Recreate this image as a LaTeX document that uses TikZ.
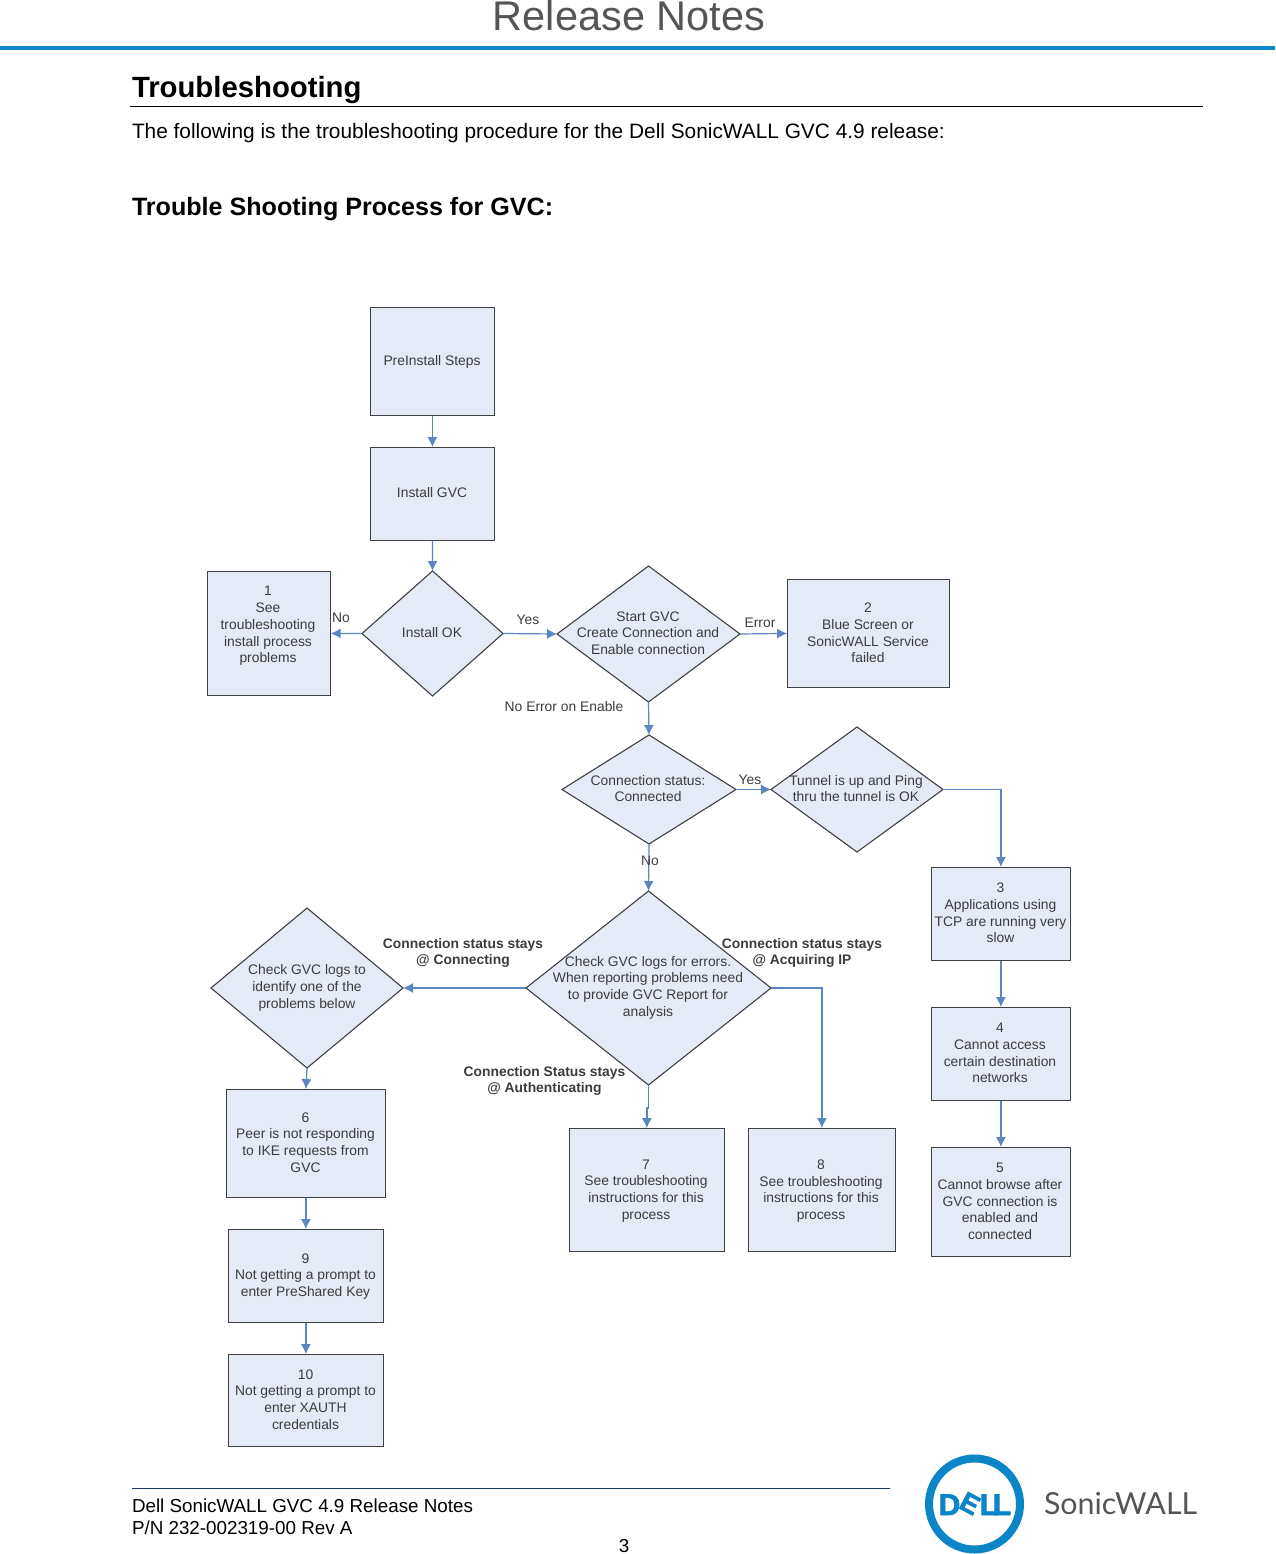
\documentclass[tikz,border=0pt]{standalone}
\usepackage{fontspec}
\setmainfont{Liberation Sans}
\newfontfamily\logofont{Lato}
\newfontfamily\dellfont[FakeBold=2.5]{Liberation Sans Bold}
\usetikzlibrary{shapes.geometric,arrows.meta}
\definecolor{boxfill}{HTML}{E4EAF6}
\definecolor{boxline}{HTML}{404040}
\definecolor{arrowc}{HTML}{5B86C0}
\definecolor{flowtext}{HTML}{3C3C3C}
\definecolor{dellblue}{HTML}{0A85C7}
\definecolor{titlegray}{HTML}{555555}
\definecolor{footline}{HTML}{17365D}
\tikzset{
  x=1pt,y=-1pt,
  inner sep=0pt,outer sep=0pt,
  flowbox/.style={draw=boxline,line width=1.2pt,fill=boxfill,rectangle,anchor=north west},
  flowdia/.style={draw=boxline,line width=1.1pt,fill=boxfill,diamond,inner sep=0pt},
  flowtxt/.style={text=flowtext,align=center,font=\fontsize{13.85}{16.7}\selectfont},
  flowbold/.style={flowtxt,font=\fontsize{13.85}{16.7}\selectfont\bfseries},
  link/.style={draw=arrowc,line width=1.2pt,-{Latex[length=10pt,width=10pt]}},
  doc/.style={anchor=base west,text=black},
  dellglyph/.style={anchor=base,text=dellblue,font=\dellfont\fontsize{30}{30}\selectfont},
}
\begin{document}
\begin{tikzpicture}
\useasboundingbox (0,0) rectangle (1275,1554);
% page furniture
\node[anchor=base,text=titlegray,font=\fontsize{41.5}{48}\selectfont] (title) at (629,31) {Release Notes};
\coordinate (hl) at (0,48.5); \coordinate (hr) at (1275,48.5);
\draw[dellblue,line width=4pt] (hl) -- (hr);
\node[doc,font=\fontsize{29.3}{36}\selectfont\bfseries] (h1) at (132,98) {Troubleshooting};
\coordinate (ul) at (130,106); \coordinate (ur) at (1203,106);
\draw[black,line width=0.9pt] (ul) -- (ur);
\node[doc,font=\fontsize{20.85}{26}\selectfont] (intro) at (132,138.5) {The following is the troubleshooting procedure for the Dell SonicWALL GVC 4.9 release:};
\node[doc,font=\fontsize{25.1}{30}\selectfont\bfseries] (h2) at (132,215.5) {Trouble Shooting Process for GVC:};
% boxes
\node[flowbox,minimum width=124.6pt,minimum height=108.6pt] (pre) at (370.1,307.1) {};
\node[flowbox,minimum width=124.6pt,minimum height=93.6pt] (inst) at (370.1,447.1) {};
\node[flowbox,minimum width=123.6pt,minimum height=124.6pt] (b1) at (207.1,571.1) {};
\node[flowbox,minimum width=162.6pt,minimum height=108.6pt] (b2) at (787.1,579.1) {};
\node[flowbox,minimum width=139.6pt,minimum height=93.6pt] (b3) at (931.1,867.1) {};
\node[flowbox,minimum width=139.6pt,minimum height=93.6pt] (b4) at (931.1,1007.1) {};
\node[flowbox,minimum width=139.6pt,minimum height=109.6pt] (b5) at (931.1,1147.1) {};
\node[flowbox,minimum width=159.6pt,minimum height=108.6pt] (b6) at (226.1,1089.1) {};
\node[flowbox,minimum width=155.6pt,minimum height=123.6pt] (b7) at (569.1,1128.1) {};
\node[flowbox,minimum width=147.6pt,minimum height=123.6pt] (b8) at (748.1,1128.1) {};
\node[flowbox,minimum width=155.6pt,minimum height=93.6pt] (b9) at (228.1,1229.1) {};
\node[flowbox,minimum width=155.6pt,minimum height=92.6pt] (b10) at (228.1,1354.1) {};
% diamonds
\node[flowdia,minimum width=141pt,minimum height=125pt] (ok) at (432.5,633.5) {};
\node[flowdia,minimum width=183pt,minimum height=136pt] (start) at (648.5,634) {};
\node[flowdia,minimum width=174pt,minimum height=109pt] (conn) at (649,789.5) {};
\node[flowdia,minimum width=172pt,minimum height=125pt] (tun) at (857,789.5) {};
\node[flowdia,minimum width=245pt,minimum height=194pt] (err) at (648.5,988) {};
\node[flowdia,minimum width=192pt,minimum height=160pt] (chk) at (307,988) {};
% box texts
\node[flowtxt] (tpre) at (432,361.5) {PreInstall Steps};
\node[flowtxt] (tinst) at (432,492.5) {Install GVC};
\node[flowtxt] (tb1) at (268,626) {1\\See\\troubleshooting\\install process\\problems};
\node[flowtxt] (tok) at (432,632.5) {Install OK};
\node[flowtxt] (tstart) at (648,633) {Start GVC\\Create Connection and\\Enable connection};
\node[flowtxt] (tb2) at (868,633) {2\\Blue Screen or\\SonicWALL Service\\failed};
\node[flowtxt] (tconn) at (648,788.5) {Connection status:\\Connected};
\node[flowtxt] (ttun) at (856,788.5) {Tunnel is up and Ping\\thru the tunnel is OK};
\node[flowtxt] (tb3) at (1000.5,913) {3\\Applications using\\TCP are running very\\slow};
\node[flowtxt] (tb4) at (1000,1053) {4\\Cannot access\\certain destination\\networks};
\node[flowtxt] (tb5) at (1000,1201.5) {5\\Cannot browse after\\GVC connection is\\enabled and\\connected};
\node[flowtxt] (terr) at (648,987.5) {Check GVC logs for errors.\\When reporting problems need\\to provide GVC Report for\\analysis};
\node[flowtxt] (tchk) at (307,988) {Check GVC logs to\\identify one of the\\problems below};
\node[flowtxt] (tb6) at (305.5,1142.5) {6\\Peer is not responding\\to IKE requests from\\GVC};
\node[flowtxt] (tb7) at (646,1191) {7\\See troubleshooting\\instructions for this\\process};
\node[flowtxt] (tb8) at (821,1191) {8\\See troubleshooting\\instructions for this\\process};
\node[flowtxt] (tb9) at (305.5,1276.5) {9\\Not getting a prompt to\\enter PreShared Key};
\node[flowtxt] (tb10) at (305.5,1399.5) {10\\Not getting a prompt to\\enter XAUTH\\credentials};
% connectors
\draw[link] (pre.south) -- (inst.north);
\draw[link] (inst.south) -- (ok.north);
\draw[link] (ok.west) -- (b1.east);
\draw[link] (ok.east) -- (start.west);
\draw[link] (start.east) -- (b2.west);
\draw[link] (start.south) -- (conn.north);
\draw[link] (conn.east) -- (tun.west);
\draw[link] (conn.south) -- (err.north);
\draw[link] (tun.east) -| (b3.north);
\draw[link] (b3.south) -- (b4.north);
\draw[link] (b4.south) -- (b5.north);
\draw[link] (err.west) -- (chk.east);
\draw[link] (chk.south) -- (b6.north);
\draw[link] (b6.south) -- (b9.north);
\draw[link] (b9.south) -- (b10.north);
\draw[link] (err.south) -- ++(0,23) -| (b7.north);
\draw[link] (err.east) -| (b8.north);
% connector labels
\node[flowtxt] (lno) at (341,617.5) {No};
\node[flowtxt] (lyes) at (528,620) {Yes};
\node[flowtxt] (lerror) at (760,622.5) {Error};
\node[flowtxt] (lnoerr) at (564,706.5) {No Error on Enable};
\node[flowtxt] (lyes2) at (750,779.5) {Yes};
\node[flowtxt] (lno2) at (650,861) {No};
\node[flowbold] (lcing) at (463,953) {Connection status stays\\@ Connecting};
\node[flowbold] (lacq) at (802,953) {Connection status stays\\@ Acquiring IP};
\node[flowbold] (lauth) at (544.5,1081) {Connection Status stays\\@ Authenticating};
% footer
\coordinate (fl) at (132,1488); \coordinate (fr) at (890,1488);
\draw[footline,line width=1pt] (fl) -- (fr);
\node[doc,font=\fontsize{18.8}{23}\selectfont] (f1) at (132,1512.5) {Dell SonicWALL GVC 4.9 Release Notes};
\node[doc,font=\fontsize{18.8}{23}\selectfont] (f2) at (132,1534) {P/N 232-002319-00 Rev A};
\node[anchor=base,font=\fontsize{18.8}{23}\selectfont] (pg) at (624,1552) {3};
% logo
\draw[dellblue,line width=8pt] (974.5,1504) circle (45.5);
\node[dellglyph] (dd) at (949.5,1515) {D};
\node[dellglyph,rotate=-28,font=\dellfont\fontsize{27}{27}\selectfont,anchor=center] (de) at (970,1503.5) {E};
\node[dellglyph] (dl) at (989,1515) {L};
\node[dellglyph] (dl2) at (1002,1515) {L};
\node[anchor=base west,text=titlegray,font=\logofont\fontsize{30.4}{36}\selectfont] (sw) at (1044,1514) {SonicWALL};
\end{tikzpicture}
\end{document}
